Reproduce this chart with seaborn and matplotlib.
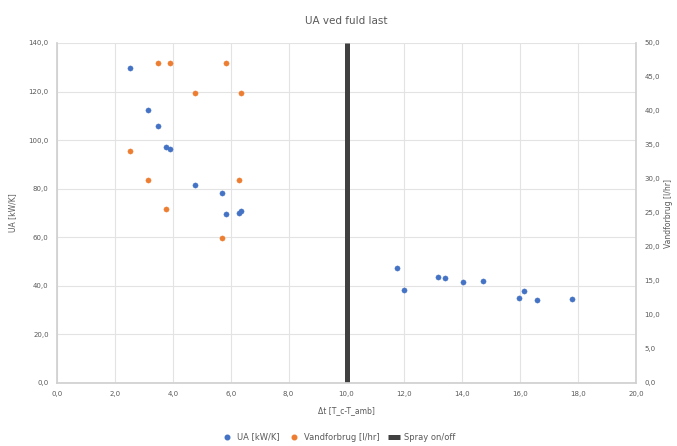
import matplotlib
matplotlib.use("Agg")
import matplotlib.pyplot as plt
import seaborn as sns
import pandas as pd
from matplotlib.ticker import FuncFormatter, MultipleLocator
from matplotlib.lines import Line2D

# Data
dt_spray = [2.52, 3.14, 3.49, 3.76, 3.90, 4.77, 5.70, 5.84, 6.29, 6.36]
ua_spray = [129.6, 112.3, 105.8, 97.1, 96.3, 81.5, 78.2, 69.5, 70.0, 70.8]
water_spray = [34.1, 29.9, 47.0, 25.6, 47.0, 42.7, 21.3, 47.0, 29.9, 42.7]
dt_dry = [11.74, 11.99, 13.16, 13.40, 14.02, 14.72, 15.96, 16.13, 16.58, 17.79]
ua_dry = [47.3, 38.3, 43.6, 43.2, 41.6, 42.0, 35.0, 37.9, 34.2, 34.6]
spray_x = [10.0, 10.0]
spray_y = [0.0, 140.0]

title = "UA ved fuld last"
xlabel = "Δt [T_c-T_amb]"
ylabel_left = "UA [kW/K]"
ylabel_right = "Vandforbrug [l/hr]"

blue = "#4472C4"
orange = "#ED7D31"
dark = "#404040"
txt = "#595959"
grid = "#E3E3E3"

sns.set_theme(style="white")
plt.rcParams['font.family'] = ['DejaVu Sans']

fig = plt.figure(figsize=(6.77, 4.46), dpi=100)
ax = fig.add_axes([57/677, 1-383/446, (636-57)/677, (383-43)/446])
ax2 = ax.twinx()

ua_df = pd.DataFrame({"dt": dt_spray + dt_dry, "ua": ua_spray + ua_dry})
w_df = pd.DataFrame({"dt": dt_spray, "w": water_spray})

sns.scatterplot(data=ua_df, x="dt", y="ua", ax=ax, color=blue, s=14,
                edgecolor=blue, linewidth=0.3, zorder=3)
ax.plot(spray_x, spray_y, color=dark, linewidth=3.6, zorder=2,
        solid_capstyle='butt')
sns.scatterplot(data=w_df, x="dt", y="w", ax=ax2, color=orange, s=14,
                edgecolor=orange, linewidth=0.3, zorder=3)

ax.set_xlim(0, 20)
ax.set_ylim(0, 140)
ax2.set_ylim(0, 50)
ax.xaxis.set_major_locator(MultipleLocator(2))
ax.yaxis.set_major_locator(MultipleLocator(20))
ax2.yaxis.set_major_locator(MultipleLocator(5))
fmt = FuncFormatter(lambda v, p: f"{v:.1f}".replace(".", ","))
ax.xaxis.set_major_formatter(fmt)
ax.yaxis.set_major_formatter(fmt)
ax2.yaxis.set_major_formatter(fmt)

ax.grid(True, color=grid, linewidth=0.8)
ax.set_axisbelow(True)
for a in (ax, ax2):
    for s in a.spines.values():
        s.set_visible(False)
    a.tick_params(length=0, labelsize=5, colors=txt, pad=6)
ax.spines['bottom'].set_visible(True)
ax.spines['bottom'].set_color("#D0D0D0")
ax.spines['left'].set_visible(True)
ax.spines['left'].set_color("#D0D0D0")
ax2.spines['right'].set_visible(True)
ax2.spines['right'].set_color("#D0D0D0")

ax.set_xlabel(xlabel, fontsize=5.5, color=txt, labelpad=6)
ax.set_ylabel(ylabel_left, fontsize=5.5, color=txt, labelpad=8)
ax2.set_ylabel(ylabel_right, fontsize=5.5, color=txt, labelpad=3)
ax.set_title(title, fontsize=7.5, color=txt, pad=14)

handles = [
    Line2D([], [], marker='o', linestyle='none', color=blue, markersize=3.3),
    Line2D([], [], marker='o', linestyle='none', color=orange, markersize=3.3),
    Line2D([], [], color=dark, linewidth=3.6, solid_capstyle='butt'),
]
fig.legend(handles, ["UA [kW/K]", "Vandforbrug [l/hr]", "Spray on/off"],
           loc='center', bbox_to_anchor=(0.5, 1-437/446), ncol=3, frameon=False,
           fontsize=6, labelcolor=txt, handlelength=1.4, handletextpad=0.5,
           columnspacing=1.0)

fig.savefig("out.png", dpi=100, facecolor="white")
